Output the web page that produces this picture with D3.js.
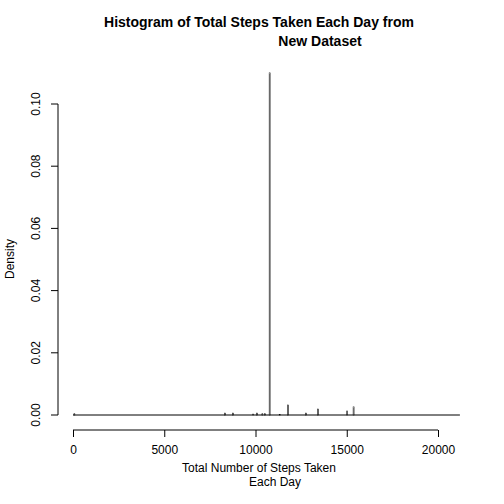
<!DOCTYPE html>
<html><head><meta charset="utf-8">
<script src="https://cdn.jsdelivr.net/npm/d3@7"></script>
<style>body{margin:0;background:#fff}text{font-family:"Liberation Sans",Arial,sans-serif}</style>
</head><body>
<svg id="chart" width="504" height="504"></svg>
<script>
// histogram bins (width 50 steps), only non-empty ones listed
var binWidth = 50;
var binMax = 21200;
var barStarts = [50, 8300, 8750, 9850, 10050, 10350, 10500, 10750, 11300, 11750, 12750, 13400, 15000, 15350];
var barDensity = [0.0004, 0.0006, 0.0006, 0.0003, 0.0006, 0.0004, 0.0004, 0.110, 0.0002, 0.0032, 0.0006, 0.0019, 0.0013, 0.0026];
var xTicks = [0, 5000, 10000, 15000, 20000];
var yTicks = [0, 0.02, 0.04, 0.06, 0.08, 0.10];

var svg = d3.select("#chart");
var x = d3.scaleLinear().domain([0, 20000]).range([73, 438]);
var y = d3.scaleLinear().domain([0, 0.10]).range([415, 104]);

var bins = d3.range(0, binMax, binWidth).map(function(s){
	var i = barStarts.indexOf(s);
	return {x0: s, x1: s + binWidth, d: i < 0 ? 0 : barDensity[i]};
});

// empty bins collapse to the baseline, as R draws them
svg.append("line").attr("x1", x(0)).attr("x2", x(binMax)).attr("y1", y(0)).attr("y2", y(0))
	.attr("stroke", "#000").attr("stroke-width", 1);

svg.append("g").selectAll("rect").data(bins.filter(b => b.d > 0)).enter().append("rect")
	.attr("x", b => x(b.x0)).attr("width", b => x(b.x1) - x(b.x0))
	.attr("y", b => y(b.d)).attr("height", b => y(0) - y(b.d))
	.attr("fill", "none").attr("stroke", "#000").attr("stroke-width", 0.6);

var xa = svg.append("g").attr("transform", "translate(0,430)")
	.call(d3.axisBottom(x).tickValues(xTicks).tickFormat(d3.format("d")).tickSize(7).tickPadding(8));
var ya = svg.append("g").attr("transform", "translate(58,0)")
	.call(d3.axisLeft(y).tickValues(yTicks).tickFormat(d3.format(".2f")).tickSize(7));
xa.select(".domain").attr("d", "M" + x(0) + ",0H" + x(20000));
ya.select(".domain").attr("d", "M0," + y(0) + "V" + y(0.10));
svg.selectAll(".tick text").attr("font-size", 12).attr("fill", "#000");
ya.selectAll(".tick text").attr("text-anchor", "middle")
	.attr("transform", function(d){ return "translate(-22," + y(d) + ") rotate(-90)"; })
	.attr("x", 0).attr("y", 0).attr("dy", "0.35em");
ya.selectAll(".tick").attr("transform", null);
ya.selectAll(".tick line").attr("transform", function(d){ return "translate(0," + y(d) + ")"; });

svg.append("text").attr("x", 259).attr("y", 27).attr("text-anchor", "middle")
	.attr("font-size", 14).attr("font-weight", "bold").text("Histogram of Total Steps Taken Each Day from");
svg.append("text").attr("x", 320).attr("y", 46).attr("text-anchor", "middle")
	.attr("font-size", 14).attr("font-weight", "bold").text("New Dataset");
svg.append("text").attr("x", 259).attr("y", 472).attr("text-anchor", "middle")
	.attr("font-size", 12).text("Total Number of Steps Taken");
svg.append("text").attr("x", 275).attr("y", 486).attr("text-anchor", "middle")
	.attr("font-size", 12).text("Each Day");
svg.append("text").attr("transform", "translate(14,259) rotate(-90)").attr("text-anchor", "middle")
	.attr("font-size", 12).text("Density");
</script>
</body></html>
